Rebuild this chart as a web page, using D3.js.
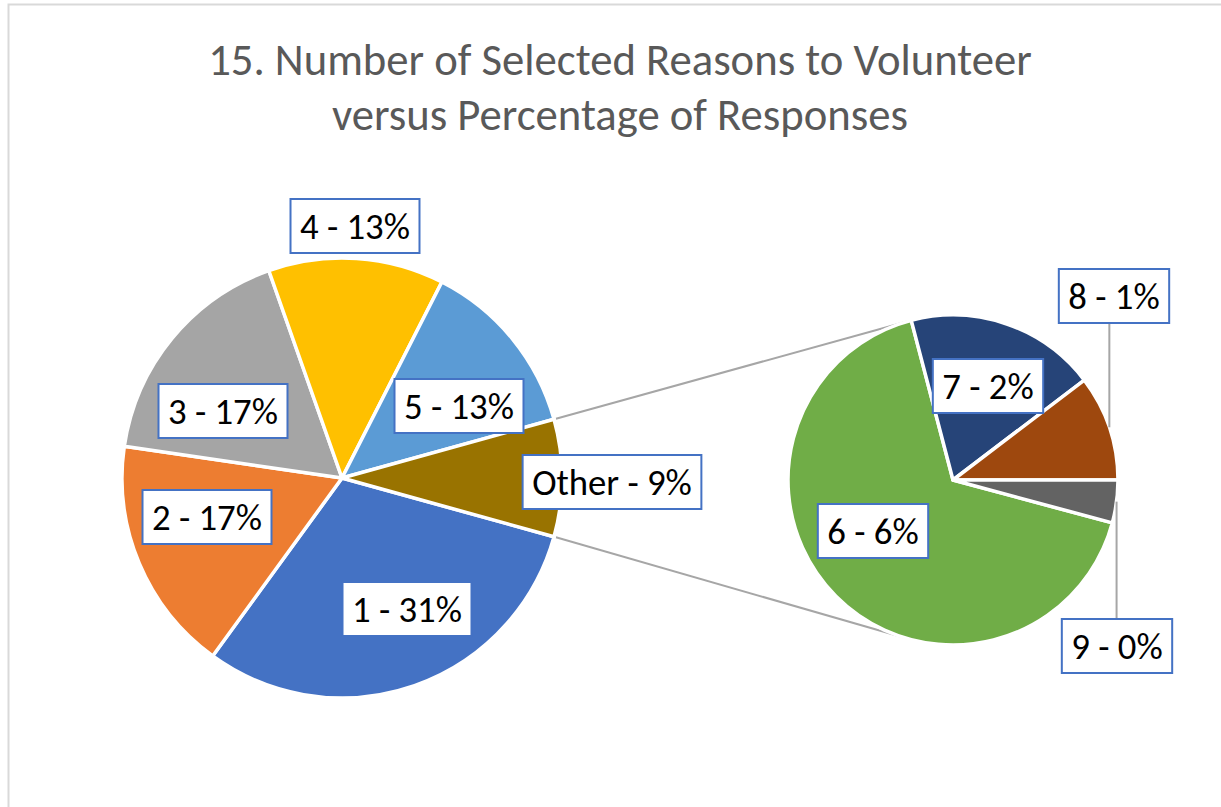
<!DOCTYPE html>
<html>
<head>
<meta charset="utf-8">
<script src="https://cdn.jsdelivr.net/npm/d3@7"></script>
<style>
  body { margin: 0; background: #fff; }
  svg { display: block; }
  text { font-family: Carlito, Calibri, Lato, "Open Sans", sans-serif; }
</style>
</head>
<body>
<script>
// chart data (percent of responses)
const titleLines = ["15. Number of Selected Reasons to Volunteer", "versus Percentage of Responses"];
const mainNames = ["1", "2", "3", "4", "5"];
const mainValues = [30.7, 17.3, 17.3, 12.9, 13.2];
const subNames = ["6", "7", "8", "9"];
const subValues = [5.74, 1.61, 0.89, 0.36];
const otherName = "Other";

const mainColors = ["#4472C4", "#ED7D31", "#A5A5A5", "#FFC000", "#5B9BD5", "#997300"];
const subColors = ["#70AD47", "#264478", "#9E480E", "#636363"];

var width = 1221, height = 807;

var svg = d3.select("body").append("svg")
    .attr("width", width)
    .attr("height", height);

// frame (only top and left edges are visible in the crop)
svg.append("rect")
    .attr("x", 8.5).attr("y", 4.5)
    .attr("width", 1240).attr("height", 840)
    .attr("fill", "#fff")
    .attr("stroke", "#d9d9d9")
    .attr("stroke-width", 2);

// title
var title = svg.append("g");
titleLines.forEach(function (t, i) {
    title.append("text")
        .attr("x", 620)
        .attr("y", 75 + i * 55)
        .attr("text-anchor", "middle")
        .attr("fill", "#595959")
        .style("font-size", "40px")
        .text(t);
});
// scale the title so the first line fills the same width as the reference
var t0 = title.select("text").node().getComputedTextLength();
var titleSize = 40 * 824 / t0;
title.selectAll("text").style("font-size", titleSize + "px");

var otherValue = d3.sum(subValues);
var total = d3.sum(mainValues) + otherValue;
var pct = d3.format(".0%");

var mainData = mainNames.map(function (n, i) {
    return { name: n, value: mainValues[i], color: mainColors[i] };
});
mainData.push({ name: otherName, value: otherValue, color: mainColors[5] });

var subData = subNames.map(function (n, i) {
    return { name: n, value: subValues[i], color: subColors[i] };
});

var main = { cx: 342, cy: 478, r: 220 };
var sub = { cx: 953, cy: 480, r: 165 };

// Other slice is centred on the right-hand side
var otherAngle = otherValue / total * 2 * Math.PI;
var mainPie = d3.pie().sort(null).value(function (d) { return d.value; })
    .startAngle(Math.PI / 2 + otherAngle / 2)
    .endAngle(Math.PI / 2 + otherAngle / 2 + 2 * Math.PI);
var mainArcs = mainPie(mainData);

var lastAngle = subValues[subValues.length - 1] / otherValue * 2 * Math.PI;
var subPie = d3.pie().sort(null).value(function (d) { return d.value; })
    .startAngle(Math.PI / 2 + lastAngle)
    .endAngle(Math.PI / 2 + lastAngle + 2 * Math.PI);
var subArcs = subPie(subData);

function polar(c, r, a) {
    return [c.cx + r * Math.sin(a), c.cy - r * Math.cos(a)];
}

// ****************** connector lines ***************************
var oth = mainArcs[mainArcs.length - 1];
function tangent(p, upper) {
    var dx = p[0] - sub.cx, dy = p[1] - sub.cy;
    var d = Math.sqrt(dx * dx + dy * dy);
    var base = Math.atan2(dy, dx);
    var alpha = Math.acos(sub.r / d);
    var a = upper ? base + alpha : base - alpha;
    return [sub.cx + sub.r * Math.cos(a), sub.cy + sub.r * Math.sin(a)];
}
var pTop = polar(main, main.r + 2, oth.startAngle);
var pBot = polar(main, main.r + 2, oth.endAngle);
var conn = [[pTop, tangent(pTop, true)], [pBot, tangent(pBot, false)]];
svg.selectAll("line.conn").data(conn).enter().append("line")
    .attr("class", "conn")
    .attr("x1", function (d) { return d[0][0]; })
    .attr("y1", function (d) { return d[0][1]; })
    .attr("x2", function (d) { return d[1][0]; })
    .attr("y2", function (d) { return d[1][1]; })
    .attr("stroke", "#a6a6a6")
    .attr("stroke-width", 2);

// ****************** pies ***************************
function drawPie(c, arcs) {
    var arc = d3.arc().innerRadius(0).outerRadius(c.r);
    svg.append("g")
        .attr("transform", "translate(" + c.cx + "," + c.cy + ")")
        .selectAll("path").data(arcs).enter().append("path")
        .attr("d", arc)
        .attr("fill", function (d) { return d.data.color; })
        .attr("stroke", "#fff")
        .attr("stroke-width", 3.5)
        .attr("stroke-linejoin", "round");
}
drawPie(main, mainArcs);
drawPie(sub, subArcs);

// ****************** labels ***************************
// label box centres, relative to each pie centre
var mainLabelPos = {
    "1": [65, 131], "2": [-135, 39], "3": [-119, -67],
    "4": [13, -252], "5": [117, -72], "Other": [270, 4]
};
var subLabelPos = {
    "6": [-80, 51], "7": [35, -94], "8": [161, -184], "9": [164, 166]
};
// slices whose labels sit away from the pie get a leader line
var leaders = { "8": true, "9": true };

// fit label font to the reference width of "4 - 13%"
var probe = svg.append("text").style("font-size", "30px").text("4 - 13%");
var labelSize = 30 * 110 / probe.node().getComputedTextLength();
probe.remove();

var boxH = 54, padX = 9.5;

function drawLabels(c, arcs, pos) {
    arcs.forEach(function (a) {
        var name = a.data.name;
        var txt = name + " - " + pct(a.data.value / total);
        var lx = c.cx + pos[name][0], ly = c.cy + pos[name][1];

        if (leaders[name]) {
            var mid = (a.startAngle + a.endAngle) / 2;
            var p = polar(c, c.r, mid);
            var edgeY = ly > p[1] ? ly - boxH / 2 : ly + boxH / 2;
            svg.append("line")
                .attr("x1", p[0]).attr("y1", p[1])
                .attr("x2", p[0]).attr("y2", edgeY)
                .attr("stroke", "#a6a6a6")
                .attr("stroke-width", 2);
        }

        var g = svg.append("g").attr("transform", "translate(" + lx + "," + ly + ")");
        var rect = g.append("rect");
        var t = g.append("text")
            .attr("text-anchor", "middle")
            .attr("dy", "0.35em")
            .attr("fill", "#000")
            .style("font-size", labelSize + "px")
            .text(txt);
        var w = t.node().getComputedTextLength() + 2 * padX;
        rect.attr("x", -w / 2).attr("y", -boxH / 2)
            .attr("width", w).attr("height", boxH)
            .attr("fill", "#fff")
            .attr("stroke", "#4472C4")
            .attr("stroke-width", 2);
    });
}
drawLabels(main, mainArcs, mainLabelPos);
drawLabels(sub, subArcs, subLabelPos);
</script>
</body>
</html>
